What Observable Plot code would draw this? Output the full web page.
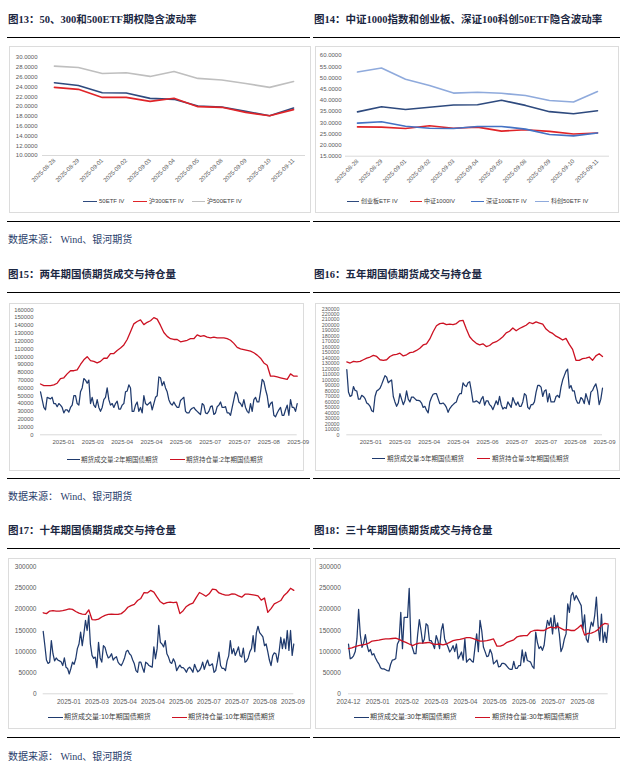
<!DOCTYPE html>
<html><head><meta charset="utf-8">
<script src="https://cdn.jsdelivr.net/npm/d3@7"></script>
<script src="https://cdn.jsdelivr.net/npm/@observablehq/plot@0.6"></script>
<style>
body{margin:0;width:624px;height:768px;position:relative;background:#fff;overflow:hidden}
.title{position:absolute;font:bold 10.5px/12px "Liberation Serif","Noto Sans CJK SC",serif;color:#1b2742;white-space:nowrap}
.src{position:absolute;font:10px/12px "Liberation Serif","Noto Sans CJK SC",serif;color:#2a3d6b;white-space:nowrap}
.rule{position:absolute;height:0;border-top:1.5px solid #000}
.box{position:absolute;border:1px solid #dcdcdc;box-sizing:border-box;background:#fff}
.chart{position:absolute}
.leg{position:absolute;white-space:nowrap;font-family:"Liberation Sans","Noto Sans CJK SC",sans-serif;color:#404040}
.legline{position:absolute;height:0}
</style>
</head><body>
<script>
// ---------- data ----------
const titles = ["图13：50、300和500ETF期权隐含波动率","图14：中证1000指数和创业板、深证100科创50ETF隐含波动率",
  "图15：两年期国债期货成交与持仓量","图16：五年期国债期货成交与持仓量",
  "图17：十年期国债期货成交与持仓量","图18：三十年期国债期货成交与持仓量"];
const sourceText = "数据来源：  Wind、银河期货";

const ivDates = ["2025-08-28","2025-08-29","2025-09-01","2025-09-02","2025-09-03","2025-09-04","2025-09-05","2025-09-08","2025-09-09","2025-09-10","2025-09-11"];
const ivNames1 = ["50ETF IV","沪300ETF IV","沪500ETF IV"];
const iv50  = [24.85,24.30,22.80,22.75,21.66,21.46,20.10,19.90,19.00,18.10,19.70];
const iv300 = [23.90,23.50,21.86,21.86,21.05,21.70,19.97,19.83,18.80,18.10,19.36];
const iv500 = [28.24,27.97,26.75,26.88,26.14,27.15,25.73,25.40,24.70,23.90,25.10];

const ivNames2 = ["创业板ETF IV","中证1000IV","深证100ETF IV","科创50ETF IV"];
const ivCyb    = [34.8,37.1,35.9,36.9,37.9,38.0,40.0,37.7,34.9,34.0,35.3];
const iv1000   = [28.1,28.0,27.4,28.6,27.5,28.0,26.2,26.8,26.1,24.9,25.4];
const ivSz100  = [29.8,30.4,28.4,27.5,27.4,28.3,28.3,27.1,24.7,24.1,25.4];
const ivKc50   = [52.6,54.4,49.4,46.6,43.2,43.6,43.1,42.1,39.9,39.2,43.9];

const tickLabelsA = ["2025-01","2025-03","2025-04","2025-04","2025-06","2025-07","2025-07","2025-08","2025-09"];
const tickLabels30 = ["2024-12","2025-01","2025-02","2025-03","2025-04","2025-05","2025-06","2025-07","2025-08"];

const legend2  = ["期货成交量:2年期国债期货","期货持仓量:2年期国债期货"];
const legend5  = ["期货成交量:5年期国债期货","期货持仓量:5年期国债期货"];
const legend10 = ["期货成交量:10年期国债期货","期货持仓量:10年期国债期货"];
const legend30 = ["期货成交量:30年期国债期货","期货持仓量:30年期国债期货"];

const vol2 = [55000,45000,35000,32000,48000,47000,46000,48000,40000,40000,36000,40000,38000,35000,28000,32000,32000,29000,35000,38000,
  50000,50000,40000,38000,55000,60000,72000,70000,66000,70000,40000,48000,38000,35000,45000,35000,30000,35000,45000,48000,
  60000,45000,38000,40000,35000,40000,43000,33000,33000,38000,40000,55000,56000,64000,60000,30000,30000,38000,42000,30000,
  35000,28000,50000,40000,38000,40000,42000,32000,40000,48000,50000,74000,73000,63000,68000,60000,55000,45000,40000,38000,
  42000,38000,35000,35000,44000,46000,48000,30000,28000,28000,32000,34000,35000,32000,30000,28000,26000,40000,38000,28000,
  27000,30000,36000,37000,26000,28000,36000,38000,42000,35000,35000,36000,28000,28000,25000,35000,45000,55000,52000,42000,
  40000,36000,45000,35000,30000,28000,40000,30000,45000,48000,42000,42000,55000,71000,68000,58000,50000,35000,40000,42000,
  25000,23000,28000,32000,35000,25000,25000,32000,38000,25000,45000,35000,35000,30000,40000];
const oi2 = [65000,63000,63000,63000,64000,66000,72000,73000,78000,82000,82000,83000,90000,96000,100000,95000,94000,92000,94000,98000,
  98000,104000,104000,108000,111000,115000,122000,132000,142000,145000,147000,141000,144000,146000,150000,148000,140000,131000,126000,123000,
  122000,122000,119000,120000,121000,123000,123000,128000,126000,127000,125000,124000,125000,124000,124000,124000,123000,121000,117000,112000,
  110000,109000,108000,107000,105000,102000,98000,92000,89000,75000,75000,74000,73000,72000,71000,78000,75000,75000];

const vol5 = [119000,78000,70000,72000,88000,81000,80000,65000,65000,72000,70000,66000,58000,56000,52000,44000,42000,70000,80000,82000,
  85000,92000,100000,108000,105000,95000,98000,100000,70000,60000,52000,58000,75000,65000,55000,62000,80000,65000,60000,69000,
  69000,66000,63000,63000,62000,58000,50000,52000,45000,40000,60000,68000,74000,75000,75000,66000,57000,57000,58000,55000,
  50000,41000,48000,52000,55000,58000,60000,70000,75000,75000,95000,90000,88000,95000,97000,80000,60000,60000,62000,60000,
  57000,65000,70000,54000,62000,62000,55000,52000,46000,54000,62000,55000,70000,55000,47000,50000,48000,60000,55000,50000,
  68000,60000,54000,60000,52000,52000,60000,75000,72000,50000,47000,55000,55000,60000,78000,90000,90000,87000,70000,80000,
  82000,60000,75000,60000,60000,60000,70000,72000,68000,87000,100000,108000,116000,120000,85000,90000,80000,80000,65000,58000,
  58000,68000,65000,57000,75000,65000,55000,78000,81000,88000,93000,80000,55000,65000,85000];
const oi5 = [133000,131000,134000,133000,134000,137000,140000,142000,145000,143000,137000,136000,137000,143000,146000,147000,149000,144000,146000,150000,
  151000,154000,158000,164000,166000,175000,188000,199000,203000,204000,201000,202000,201000,203000,208000,209000,193000,179000,172000,167000,
  164000,166000,161000,163000,168000,170000,174000,179000,186000,189000,195000,190000,194000,197000,200000,205000,203000,206000,204000,202000,
  193000,188000,185000,180000,177000,173000,176000,165000,156000,136000,136000,139000,140000,142000,136000,144000,148000,143000];

const vol10 = [148000,115000,80000,72000,75000,126000,95000,78000,85000,80000,78000,76000,67000,85000,63000,60000,47000,60000,75000,70000,
  83000,107000,118000,146000,114000,142000,174000,150000,186000,118000,91000,84000,87000,62000,122000,85000,75000,114000,110000,95000,
  85000,88000,95000,80000,85000,88000,75000,70000,67000,75000,85000,100000,103000,95000,91000,80000,71000,55000,51000,75000,
  75000,62000,51000,75000,72000,67000,65000,63000,111000,83000,107000,162000,122000,118000,111000,126000,95000,87000,75000,72000,
  83000,75000,55000,62000,68000,62000,62000,58000,51000,60000,63000,58000,51000,70000,60000,52000,55000,62000,75000,58000,
  70000,80000,67000,68000,71000,51000,55000,75000,99000,67000,60000,60000,55000,78000,90000,126000,95000,107000,91000,100000,
  111000,90000,87000,108000,75000,78000,85000,100000,107000,138000,100000,145000,160000,145000,140000,135000,114000,118000,100000,80000,
  67000,90000,97000,95000,75000,100000,134000,107000,130000,107000,150000,103000,150000,91000,118000];
const oi10 = [192000,190000,196000,197000,196000,196000,197000,199000,201000,200000,195000,191000,189000,188000,199000,176000,175000,177000,182000,186000,
  188000,189000,188000,188000,190000,196000,205000,209000,212000,221000,226000,240000,239000,245000,241000,229000,218000,213000,216000,217000,
  216000,217000,190000,197000,207000,212000,215000,228000,240000,236000,231000,237000,248000,247000,239000,236000,234000,234000,237000,236000,
  232000,229000,236000,236000,235000,234000,232000,222000,227000,193000,202000,213000,217000,221000,233000,240000,250000,245000];

const vol30 = [118000,83000,85000,90000,100000,130000,200000,140000,110000,120000,140000,115000,100000,105000,92000,95000,85000,77000,71000,62000,
  59000,59000,57000,55000,54000,70000,80000,81000,83000,118000,126000,193000,107000,181000,181000,181000,250000,120000,108000,95000,
  95000,140000,176000,150000,120000,130000,166000,162000,126000,126000,118000,107000,138000,126000,107000,150000,166000,130000,120000,111000,
  99000,105000,114000,100000,118000,83000,90000,99000,80000,130000,75000,80000,83000,78000,75000,110000,142000,100000,174000,150000,
  111000,100000,88000,90000,105000,95000,71000,75000,80000,64000,65000,72000,72000,70000,65000,60000,58000,58000,77000,60000,
  60000,67000,67000,104000,75000,99000,79000,77000,75000,65000,60000,146000,122000,107000,112000,103000,115000,150000,174000,162000,
  180000,142000,186000,154000,168000,142000,100000,110000,130000,142000,213000,193000,233000,240000,222000,233000,225000,217000,209000,154000,
  187000,130000,122000,150000,170000,160000,186000,229000,162000,126000,189000,122000,146000,122000,162000];
const oi30 = [107000,109000,112000,114000,116000,117000,120000,125000,126000,127000,129000,130000,130000,131000,132000,129000,125000,122000,118000,114000,
  118000,120000,120000,121000,122000,118000,117000,118000,116000,118000,122000,126000,128000,129000,131000,133000,133000,131000,128000,125000,
  125000,126000,128000,130000,113000,113000,116000,122000,125000,128000,135000,137000,138000,138000,147000,150000,151000,150000,150000,155000,
  158000,156000,159000,155000,151000,152000,150000,150000,156000,163000,139000,143000,144000,147000,152000,162000,167000,165000];

// ---------- colours ----------
const NAVY = "#1f3a6d", RED = "#cc1122", IVRED = "#e02428", GRAY = "#bfbfbf", BLUE = "#4472c4", LBLUE = "#8faadc", NAVY2 = "#2e4a7e";
const FONT = '"Liberation Sans","Noto Sans CJK SC",sans-serif';

// ---------- layout helpers ----------
function el(cls, css, text) {
  const d = document.createElement("div");
  d.className = cls;
  Object.assign(d.style, css);
  if (text != null) d.textContent = text;
  document.body.appendChild(d);
  return d;
}
function legend(items, y, fs) {
  items.forEach(it => {
    el("legline", {left: it.x1 + "px", top: (y - 0.75) + "px", width: (it.x2 - it.x1) + "px", borderTop: "1.5px solid " + it.color});
    el("leg", {left: it.tx + "px", top: (y - fs * 0.62) + "px", fontSize: fs + "px", lineHeight: (fs * 1.2) + "px"}, it.label);
  });
}

// frames: titles, rules, boxes, sources
[[20, 37, 221, 240, 46, 213], [275, 291.5, 478, 497, 303, 471], [531, 548, 737, 757, 558, 729]].forEach((r, row) => {
  el("title", {left: "8px", top: (r[0] - 6) + "px"}, titles[row * 2]);
  el("title", {left: "314px", top: (r[0] - 6) + "px"}, titles[row * 2 + 1]);
  el("rule", {left: "7px", width: "303px", top: r[1] + "px"});
  el("rule", {left: "313px", width: "307px", top: r[1] + "px"});
  el("rule", {left: "7px", width: "303px", top: r[2] + "px"});
  el("rule", {left: "313px", width: "307px", top: r[2] + "px"});
  el("src", {left: "8px", top: (r[3] - 6) + "px"}, sourceText);
  const lw = row === 1 ? 295 : (row === 0 ? 302 : 303);
  const rw = row === 2 ? 301 : (row === 0 ? 304 : 305);
  el("box", {left: (row === 2 ? 8 : 9) + "px", top: r[4] + "px", width: lw + "px", height: (r[5] - r[4]) + "px"});
  el("box", {left: "315px", top: r[4] + "px", width: rw + "px", height: (r[5] - r[4]) + "px"});
});

function place(svg, left, top) {
  const d = el("chart", {left: left + "px", top: top + "px"});
  d.appendChild(svg);
}

// ---------- IV charts ----------
function ivChart(c) {
  return Plot.plot({
    width: c.width, height: c.height,
    marginLeft: c.ml, marginRight: c.mr, marginTop: c.mt, marginBottom: c.mb,
    x: {type: "linear", domain: [-0.5, ivDates.length - 0.5]},
    y: {domain: c.yDomain},
    style: {fontFamily: FONT, color: "#595959", background: "transparent", overflow: "visible"},
    marks: [
      Plot.ruleY([c.yDomain[0]], {stroke: "#d9d9d9", strokeWidth: 1}),
      Plot.axisY({ticks: c.yTicks, tickSize: 0, tickPadding: c.yPad, fontSize: 6, tickFormat: d => d.toFixed(4), label: null}),
      Plot.axisX({ticks: d3.range(ivDates.length), tickSize: 0, tickPadding: 4, fontSize: 6, tickRotate: -45, tickFormat: i => ivDates[i], label: null}),
      ...c.series.map(s => Plot.line(s.v, {x: (d, i) => i, y: d => d, stroke: s.color, strokeWidth: 1.6}))
    ]
  });
}
place(ivChart({width: 302, height: 150, ml: 33, mr: 6, mt: 11, mb: 41, yDomain: [10, 30], yTicks: d3.range(10, 31, 2), yPad: 5,
  series: [{v: iv50, color: NAVY2}, {v: iv300, color: IVRED}, {v: iv500, color: GRAY}]}), 9, 46);
legend([{x1: 83, x2: 97, tx: 99, color: NAVY2, label: ivNames1[0]},
        {x1: 133, x2: 147, tx: 149, color: IVRED, label: ivNames1[1]},
        {x1: 192, x2: 205, tx: 207, color: GRAY, label: ivNames1[2]}], 202, 6);

place(ivChart({width: 304, height: 150, ml: 30, mr: 10, mt: 9, mb: 40.3, yDomain: [15, 60], yTicks: d3.range(15, 61, 5), yPad: 4,
  series: [{v: ivCyb, color: NAVY2}, {v: iv1000, color: IVRED}, {v: ivSz100, color: BLUE}, {v: ivKc50, color: LBLUE}]}), 315, 46);
legend([{x1: 347, x2: 359, tx: 361, color: NAVY2, label: ivNames2[0]},
        {x1: 410, x2: 422, tx: 424, color: IVRED, label: ivNames2[1]},
        {x1: 471, x2: 484, tx: 486, color: BLUE, label: ivNames2[2]},
        {x1: 535, x2: 549, tx: 551, color: LBLUE, label: ivNames2[3]}], 202, 6);

// ---------- bond charts ----------
function tsChart(c) {
  const n = c.oi.length;
  const kv = (n - 1) / (c.vol.length - 1);
  const tickPos = c.labels.map((_, k) => c.t0 + k * c.step);
  const tickMap = new Map(tickPos.map((p, k) => [p, c.labels[k]]));
  return Plot.plot({
    width: c.width, height: c.height,
    marginLeft: c.ml, marginRight: c.mr, marginTop: c.mt, marginBottom: c.mb,
    x: {type: "linear", domain: [0, n - 1]},
    y: {domain: [0, c.yMax]},
    style: {fontFamily: FONT, color: "#595959", background: "transparent", overflow: "visible"},
    marks: [
      Plot.ruleY([0], {stroke: "#d9d9d9", strokeWidth: 1}),
      Plot.axisY({ticks: c.yTicks, tickSize: 0, tickPadding: c.yPad, fontSize: c.yFont, tickFormat: d => String(d), label: null}),
      Plot.axisX({ticks: tickPos, tickSize: 0, tickPadding: c.xPad, fontSize: c.xFont, tickFormat: d => tickMap.get(d), label: null}),
      Plot.line(c.vol, {x: (d, i) => i * kv, y: d => d, stroke: NAVY, strokeWidth: 1.25}),
      Plot.line(c.oi, {x: (d, i) => i, y: d => d, stroke: RED, strokeWidth: 1.3})
    ]
  });
}
place(tsChart({vol: vol2, oi: oi2, labels: tickLabelsA, t0: 6.9, step: 8.8, width: 295, height: 148, ml: 31, mr: 7.3, mt: 6.3, mb: 16.7,
  yMax: 160000, yTicks: d3.range(0, 160001, 10000), yPad: 7, yFont: 5.8, xPad: 5, xFont: 6}), 9, 303);
legend([{x1: 67, x2: 80, tx: 81, color: NAVY, label: legend2[0]}, {x1: 170, x2: 185, tx: 186, color: RED, label: legend2[1]}], 460, 6.5);

place(tsChart({vol: vol5, oi: oi5, labels: tickLabelsA, t0: 7.2, step: 8.8, width: 305, height: 149, ml: 31.3, mr: 18, mt: 6.3, mb: 16.7,
  yMax: 230000, yTicks: d3.range(0, 230001, 10000), yPad: 7.3, yFont: 5.3, xPad: 5, xFont: 6}), 315, 302);
legend([{x1: 372, x2: 385, tx: 387, color: NAVY, label: legend5[0]}, {x1: 477, x2: 490, tx: 492, color: RED, label: legend5[1]}], 459, 6.5);

place(tsChart({vol: vol10, oi: oi10, labels: tickLabelsA, t0: 7.9, step: 8.6, width: 303, height: 155, ml: 34.7, mr: 17.7, mt: 8.7, mb: 19.7,
  yMax: 300000, yTicks: d3.range(0, 300001, 50000), yPad: 6.7, yFont: 6.5, xPad: 6, xFont: 6.5}), 8, 558);
legend([{x1: 48, x2: 63, tx: 64, color: NAVY, label: legend10[0]}, {x1: 172, x2: 187, tx: 188, color: RED, label: legend10[1]}], 717.7, 7);

place(tsChart({vol: vol30, oi: oi30, labels: tickLabels30, t0: 0, step: 8.67, width: 301, height: 155, ml: 33, mr: 8.3, mt: 8.7, mb: 19.7,
  yMax: 300000, yTicks: d3.range(0, 300001, 50000), yPad: 7.7, yFont: 6.5, xPad: 6, xFont: 6.5}), 315, 558);
legend([{x1: 354, x2: 369, tx: 370, color: NAVY, label: legend30[0]}, {x1: 475, x2: 490, tx: 492, color: RED, label: legend30[1]}], 717.7, 7);
</script>
</body></html>
